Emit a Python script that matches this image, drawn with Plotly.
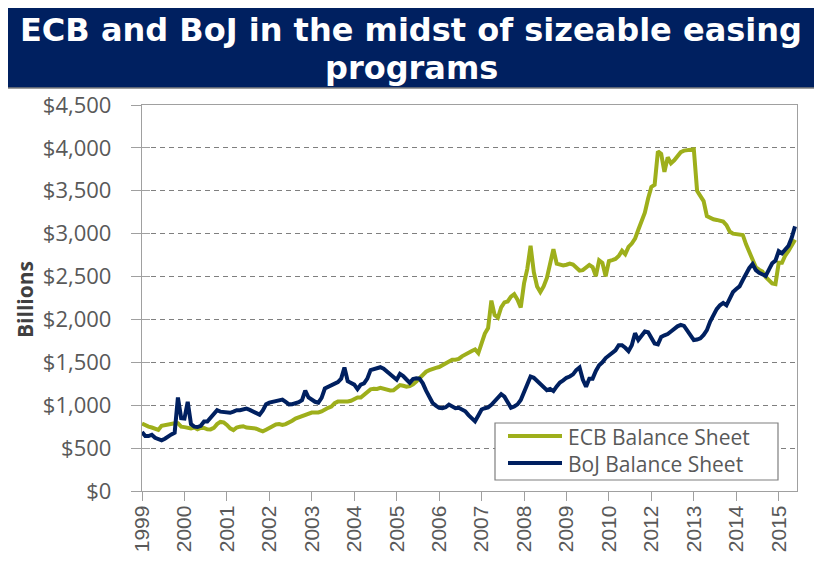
import plotly.graph_objects as go
import pandas as pd

# monthly balance sheets in $ billions, Jan 1999 onwards
ECB_BALANCE = [
    785, 765, 750, 740, 730, 712, 760, 770, 780, 780, 790, 790,
    750, 745, 735, 730, 740, 720, 735, 735, 720, 718, 735, 780,
    805, 800, 770, 730, 710, 740, 750, 755, 740, 735, 727, 727,
    710, 695, 715, 735, 755, 775, 780, 770, 780, 795, 820, 845,
    860, 875, 895, 900, 915, 915, 915, 927, 955, 970, 985, 1025,
    1042, 1040, 1038, 1043, 1052, 1078, 1090, 1090, 1122, 1145, 1185, 1192,
    1190, 1203, 1193, 1190, 1172, 1175, 1211, 1235, 1227, 1217, 1222, 1242,
    1277, 1317, 1365, 1390, 1408, 1425, 1436, 1445, 1465, 1485, 1510, 1530,
    1530, 1540, 1570, 1595, 1618, 1633, 1650, 1608, 1720, 1835, 1900, 2220,
    2050, 2020, 2140, 2198, 2210, 2265, 2295, 2230, 2140, 2420, 2590, 2860,
    2550, 2385, 2320, 2385, 2485, 2660, 2820, 2650, 2635, 2630, 2638, 2652,
    2640, 2605, 2570, 2575, 2600, 2635, 2610, 2505, 2690, 2660, 2504, 2680,
    2692, 2705, 2740, 2800, 2760, 2845, 2885, 2942, 3045, 3140, 3245, 3410,
    3545, 3570, 3960, 3930, 3720, 3890, 3820, 3855, 3895, 3950, 3968, 3970,
    3980, 3985, 3500, 3430, 3380, 3205, 3185, 3168, 3160, 3155, 3140, 3100,
    3025, 3000, 2998, 2997, 2985, 2875, 2780, 2685, 2608, 2580, 2560, 2495,
    2455, 2419, 2412, 2660, 2660, 2745, 2800, 2872, 2930,
]
BOJ_BALANCE = [
    688, 640, 640, 656, 620, 600, 590, 610, 640, 660, 680, 1090,
    850, 845, 1040, 780, 750, 746, 760, 810, 810, 850, 900, 941,
    925, 922, 922, 912, 925, 941, 941, 945, 960, 945, 930, 905,
    890, 940, 1010, 1030, 1039, 1039, 1050, 1066, 1039, 1010, 1012, 1020,
    1035, 1060, 1170, 1090, 1060, 1040, 1030, 1085, 1195, 1215, 1230, 1245,
    1270, 1310, 1440, 1280, 1265, 1240, 1187, 1240, 1255, 1310, 1410, 1418,
    1430, 1443, 1425, 1395, 1370, 1335, 1297, 1365, 1340, 1300, 1262, 1305,
    1315, 1310, 1255, 1170, 1090, 1027, 995, 970, 965, 977, 1007, 990,
    965, 970, 955, 930, 885, 845, 812, 880, 950, 965, 975, 1005,
    1050, 1095, 1129, 1100, 1040, 970, 985, 1010, 1060, 1160, 1240, 1335,
    1320, 1280, 1250, 1200, 1175, 1190, 1165, 1220, 1265, 1290, 1320, 1335,
    1360, 1410, 1440, 1300, 1215, 1310, 1310, 1400, 1465, 1500, 1550, 1580,
    1610, 1640, 1700, 1700, 1670, 1630, 1700, 1840, 1760, 1820, 1860, 1850,
    1780, 1720, 1710, 1795, 1815, 1830, 1860, 1895, 1920, 1937, 1925, 1870,
    1805, 1760, 1765, 1780, 1820, 1875, 1975, 2060, 2120, 2165, 2193, 2165,
    2245, 2320, 2355, 2385, 2460, 2530, 2600, 2645, 2575, 2545, 2525, 2507,
    2580, 2655, 2685, 2797, 2770, 2815, 2860, 2955, 3085,
]
MONTHS = pd.date_range("1999-01-01", periods=len(ECB_BALANCE), freq="MS").strftime("%Y-%m").tolist()

# Excel category axis: one label every 13 months, so 2011 never shows up
TICK_STEP = 13
TICK_YEARS = ["1999", "2000", "2001", "2002", "2003", "2004", "2005", "2006",
              "2007", "2008", "2009", "2010", "2012", "2013", "2014", "2015"]

ECB_COLOR = "#9EAF1B"
BOJ_COLOR = "#002060"
AXIS_COLOR = "#A0A0A0"
GRID_COLOR = "#7F7F7F"
TEXT_COLOR = "#595959"

# the html body has an 8px margin, so the figure is drawn 8px in from the window corner
PAGE_OFFSET = 8
FIG_W, FIG_H = 822 - 2 * PAGE_OFFSET, 565 - 2 * PAGE_OFFSET

# plot area in window pixels
PLOT_L, PLOT_R, PLOT_T, PLOT_B = 142, 797, 105, 491


def px_x(px):
    return (px - PLOT_L) / (PLOT_R - PLOT_L)


def px_y(py):
    return (PLOT_B - py) / (PLOT_B - PLOT_T)


fig = go.Figure()

fig.add_trace(go.Scatter(x=MONTHS, y=ECB_BALANCE, mode="lines", name="ECB Balance Sheet",
                         line=dict(color=ECB_COLOR, width=4)))
fig.add_trace(go.Scatter(x=MONTHS, y=BOJ_BALANCE, mode="lines", name="BoJ Balance Sheet",
                         line=dict(color=BOJ_COLOR, width=4)))
# empty trace so the inner tick axis gets drawn
fig.add_trace(go.Scatter(x=[], y=[], yaxis="y2", showlegend=False, hoverinfo="skip"))

# --- Banner and a hand-made legend ---
shapes = [
    dict(type="rect", xref="paper", yref="paper", x0=px_x(4), x1=px_x(818), y0=px_y(88), y1=px_y(4),
         fillcolor="#002060", line=dict(color="#7F7F7F", width=1.5), layer="above"),
    dict(type="rect", xref="paper", yref="paper", x0=px_x(495), x1=px_x(778), y0=px_y(480), y1=px_y(423),
         fillcolor="white", line=dict(color="#7F7F7F", width=1.2), layer="above"),
    dict(type="line", xref="paper", yref="paper", x0=px_x(508), x1=px_x(562), y0=px_y(436), y1=px_y(436),
         line=dict(color=ECB_COLOR, width=4), layer="above"),
    dict(type="line", xref="paper", yref="paper", x0=px_x(508), x1=px_x(562), y0=px_y(463), y1=px_y(463),
         line=dict(color=BOJ_COLOR, width=4), layer="above"),
]

title_font = dict(family="DejaVu Sans", size=32, color="white")
annotations = [
    dict(text="<b>ECB and BoJ in the midst of sizeable easing</b>", x=px_x(411), y=px_y(30),
         xref="paper", yref="paper", showarrow=False, font=title_font, xanchor="center", yanchor="middle"),
    dict(text="<b>programs</b>", x=px_x(411), y=px_y(68),
         xref="paper", yref="paper", showarrow=False, font=title_font, xanchor="center", yanchor="middle"),
    dict(text="<b>Billions</b>", x=px_x(25), y=px_y(300), xref="paper", yref="paper", showarrow=False,
         textangle=-90, font=dict(family="Open Sans", size=21, color="#404040"),
         xanchor="center", yanchor="middle"),
    dict(text="ECB Balance Sheet<br>BoJ Balance Sheet", x=px_x(566), y=px_y(450),
         xref="paper", yref="paper", showarrow=False, align="left",
         font=dict(family="Open Sans", size=21, color=TEXT_COLOR), xanchor="left", yanchor="middle"),
]

fig.update_layout(
    width=FIG_W, height=FIG_H,
    margin=dict(l=PLOT_L - PAGE_OFFSET, r=FIG_W - (PLOT_R - PAGE_OFFSET),
                t=PLOT_T - PAGE_OFFSET, b=FIG_H - (PLOT_B - PAGE_OFFSET)),
    paper_bgcolor="white", plot_bgcolor="white",
    showlegend=False,
    font=dict(family="Open Sans", color=TEXT_COLOR),
    xaxis=dict(
        type="category", range=[0, 200.6], automargin=False,
        tickmode="array", tickvals=MONTHS[::TICK_STEP][:len(TICK_YEARS)], ticktext=TICK_YEARS,
        tickangle=-90, ticks="outside", ticklen=9, tickwidth=1.3, tickcolor=AXIS_COLOR,
        ticklabelstandoff=-4,
        tickfont=dict(family="Liberation Sans", size=21, color=TEXT_COLOR),
        showline=True, linecolor=AXIS_COLOR, linewidth=1.3, mirror=True,
        showgrid=False, zeroline=False,
    ),
    yaxis=dict(
        range=[0, 4500], tick0=0, dtick=500, tickprefix="$", tickformat=",", automargin=False,
        ticks="outside", ticklen=10, tickwidth=1.3, tickcolor=AXIS_COLOR, ticklabelstandoff=15,
        tickfont=dict(family="Open Sans", size=22, color=TEXT_COLOR),
        showline=True, linecolor=AXIS_COLOR, linewidth=1.3, mirror=True,
        showgrid=True, gridcolor=GRID_COLOR, gridwidth=1.3, griddash="5px,4px", zeroline=False,
    ),
    yaxis2=dict(
        overlaying="y", anchor="x", side="left", range=[0, 4500], tick0=0, dtick=500, automargin=False,
        ticks="inside", ticklen=8, tickwidth=1.3, tickcolor=AXIS_COLOR,
        showticklabels=False, showgrid=False, showline=False, zeroline=False,
    ),
    shapes=shapes,
    annotations=annotations,
)

fig.write_html("out.html")
